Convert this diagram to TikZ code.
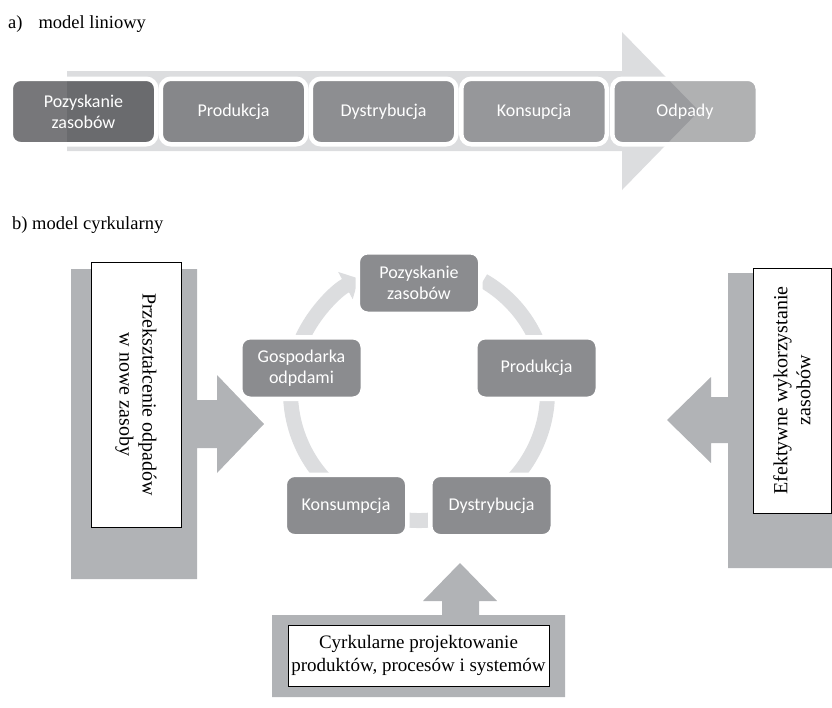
\documentclass[tikz,border=0pt]{standalone}
\usepackage{fontspec}
\setmainfont{Liberation Serif}
\newfontfamily\calibri{Carlito}
\usetikzlibrary{arrows.meta, calc}

\definecolor{jasny}{RGB}{220,221,223}
\definecolor{szary}{RGB}{177,179,182}
\definecolor{ciemny}{RGB}{139,140,143}
\definecolor{baza}{RGB}{42,43,47}

\tikzset{
    etap/.style={draw=white, line width=4.5pt, fill=baza, fill opacity=#1, text opacity=1,
        rounded corners=10pt, minimum width=145.5pt, minimum height=65.5pt, inner sep=0pt,
        text=white, align=center, font=\calibri\fontsize{18}{21}\selectfont},
    cykl/.style={draw=white, line width=4.5pt, fill=ciemny, rounded corners=10pt,
        minimum width=122.5pt, minimum height=61.5pt, inner sep=0pt,
        text=white, align=center, font=\calibri\fontsize{18}{21}\selectfont},
    opis/.style={draw=black, line width=0.6pt, fill=white, inner sep=0pt,
        align=center, font=\fontsize{20}{23}\selectfont},
    naglowek/.style={anchor=base west, inner sep=0pt, font=\fontsize{18.5}{22}\selectfont}
}

\begin{document}
\begin{tikzpicture}[x=1pt, y=-1pt]
            \useasboundingbox (0,0) rectangle (832,707);

            \node[naglowek] (tytulA) at (8,28) {a)\hspace{16pt}model liniowy};
            \fill[jasny] (67,71) -- (622,71) -- (622,32) -- (699,111) -- (622,190)
                -- (622,151) -- (67,151) -- cycle;
            \node[etap=0.64] (pozL) at (83.5,111.5) {Pozyskanie\\zasobów};
            \node[etap=0.48] (prodL) at (233.5,111.5) {Produkcja};
            \node[etap=0.44] (dystL) at (383.5,111.5) {Dystrybucja};
            \node[etap=0.39] (konsL) at (534,111.5) {Konsupcja};
            \node[etap=0.37] (odpL) at (685,111.5) {Odpady};

            \node[naglowek] (tytulB) at (12,229) {b) model cyrkularny};

            \fill[szary] (71,269) -- (197,269) -- (197,400) -- (217,400) -- (217,375)
                -- (264,424) -- (217,473) -- (217,448) -- (197,448) -- (197,579)
                -- (71,579) -- cycle;
            \fill[szary] (832,273) -- (728,273) -- (728,397) -- (711,397) -- (711,377)
                -- (667,420) -- (711,463) -- (711,443) -- (728,443) -- (728,568)
                -- (832,568) -- cycle;
            \fill[szary] (272,697) -- (272,615) -- (442,615) -- (442,601) -- (423,601)
                -- (460,563) -- (497,601) -- (479,601) -- (479,615) -- (565,615)
                -- (565,697) -- cycle;

            \node[opis, rotate=-90, minimum width=265pt, minimum height=90pt] (przeksztalcenie)
                at (136,394.5) {Przekształcenie odpadów\\w nowe zasoby};
            \node[opis, rotate=90, minimum width=245pt, minimum height=78pt] (efektywne)
                at (792,390.5) {Efektywne wykorzystanie\\zasobów};
            \node[opis, minimum width=261pt, minimum height=61pt, font=\fontsize{19}{23}\selectfont]
                (projektowanie) at (418.5,655.5) {Cyrkularne projektowanie\\produktów, procesów i systemów};

            \coordinate (srodek) at (419,392);
            \draw[jasny, line width=15pt, -{Triangle[width=30pt, length=15pt]}]
                ($(srodek)+(-60:128.5)$) arc [start angle=-60, end angle=242, radius=128.5];

            \node[cykl] (pozC) at (419,283) {Pozyskanie\\zasobów};
            \node[cykl] (prodC) at (536.5,368) {Produkcja};
            \node[cykl] (gospC) at (301.5,368) {Gospodarka\\odpdami};
            \node[cykl] (konsC) at (346,505.5) {Konsumpcja};
            \node[cykl] (dystC) at (491.5,505.5) {Dystrybucja};
        \end{tikzpicture}
\end{document}
